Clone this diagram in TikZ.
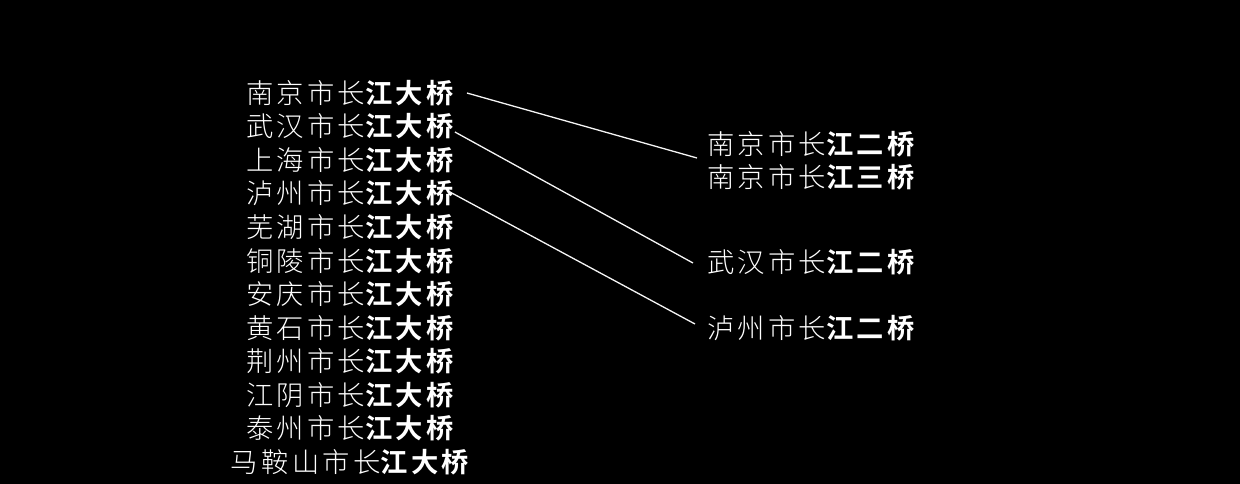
\documentclass[tikz,border=0pt]{standalone}
\usepackage{fontspec}
\newfontfamily\cjkl{Noto Sans CJK SC Light}[LetterSpace=12]
\newfontfamily\cjkb{Noto Sans CJK SC Bold}[LetterSpace=12]
\begin{document}
\begin{tikzpicture}[x=1pt,y=-1pt,
  txt/.style={inner sep=0pt, text=white, font=\fontsize{27.3}{33.5}\selectfont\cjkl},
  link/.style={draw=white!92!gray, line width=1.3pt}]
\fill[black] (0,0) rectangle (1240,484);
\useasboundingbox (0,0) rectangle (1240,484);
\node[txt] (L1)  at (350,93.0)  {南京市长{\cjkb 江大桥}};
\node[txt] (L2)  at (350,126.5) {武汉市长{\cjkb 江大桥}};
\node[txt] (L3)  at (350,160.1) {上海市长{\cjkb 江大桥}};
\node[txt] (L4)  at (350,193.6) {泸州市长{\cjkb 江大桥}};
\node[txt] (L5)  at (350,227.2) {芜湖市长{\cjkb 江大桥}};
\node[txt] (L6)  at (350,260.7) {铜陵市长{\cjkb 江大桥}};
\node[txt] (L7)  at (350,294.3) {安庆市长{\cjkb 江大桥}};
\node[txt] (L8)  at (350,327.8) {黄石市长{\cjkb 江大桥}};
\node[txt] (L9)  at (350,361.4) {荆州市长{\cjkb 江大桥}};
\node[txt] (L10) at (350,394.9) {江阴市长{\cjkb 江大桥}};
\node[txt] (L11) at (350,428.5) {泰州市长{\cjkb 江大桥}};
\node[txt] (L12) at (350,462.0) {马鞍山市长{\cjkb 江大桥}};
\node[txt, anchor=west, align=left] (R1) at (707,160.5) {南京市长{\cjkb 江二桥}\\南京市长{\cjkb 江三桥}};
\node[txt, anchor=west] (R2) at (707,262) {武汉市长{\cjkb 江二桥}};
\node[txt, anchor=west] (R3) at (707,328) {泸州市长{\cjkb 江二桥}};
\draw[link] ([xshift=13pt]L1.east) -- ([xshift=-10pt,yshift=2.5pt]R1.west);
\draw[link] ([xshift=1pt,yshift=-5.5pt]L2.east) -- ([xshift=-14pt,yshift=-1pt]R2.west);
\draw[link] ([xshift=-4pt,yshift=1.6pt]L4.east) -- ([xshift=-12pt,yshift=4pt]R3.west);
\end{tikzpicture}
\end{document}
